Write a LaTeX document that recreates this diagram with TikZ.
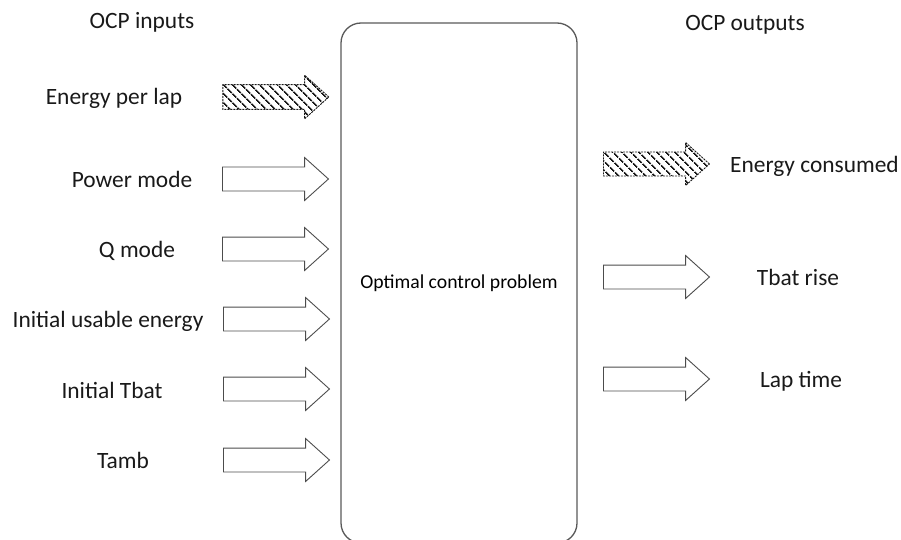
\documentclass[tikz,border=0pt]{standalone}
\usepackage{fontspec}
\setmainfont{Carlito}
\usetikzlibrary{shapes.arrows,patterns.meta}

\tikzset{
  lbl/.style={anchor=base, inner sep=0pt, text=black!90,
    font=\fontsize{23.4}{28}\selectfont},
  blockarrow/.style={single arrow, anchor=tail, draw=black!70, line width=0.9pt,
    minimum height=106pt, inner xsep=0pt, inner ysep=11.5pt,
    single arrow head extend=9.5pt, single arrow tip angle=84},
  hatcharrow/.style={blockarrow, draw=black!90, dash pattern=on 2pt off 1pt,
    pattern={Lines[angle=-45,distance=6.5pt,line width=1.7pt]},
    pattern color=black!90},
}

\begin{document}
\begin{tikzpicture}[x=1pt, y=-1pt]
  \useasboundingbox (0,0) rectangle (901,540);
  \clip (0,0) rectangle (901,540);

  % the problem block
  \node[draw=black!65, line width=1.3pt, rounded corners=20pt,
    minimum width=236pt, minimum height=520pt,
    font=\fontsize{19.7}{24}\selectfont] (ocp) at (459,283) {Optimal control problem};

  % inputs
  \node[lbl] (intitle) at (142,29) {OCP inputs};

  \node[hatcharrow] (aLap) at (222,97) {};
  \node[lbl] (tLap) at (114,105) {Energy per lap};

  \node[blockarrow] (aPow) at (222,179) {};
  \node[lbl] (tPow) at (132,187) {Power mode};

  \node[blockarrow] (aQ) at (222,249) {};
  \node[lbl] (tQ) at (137,257) {Q mode};

  \node[blockarrow] (aEini) at (223,319) {};
  \node[lbl] (tEini) at (108,327) {Initial usable energy};

  \node[blockarrow] (aTini) at (223,389) {};
  \node[lbl] (tTini) at (112,398) {Initial Tbat};

  \node[blockarrow] (aTamb) at (223,460) {};
  \node[lbl] (tTamb) at (123,468) {Tamb};

  % outputs
  \node[lbl] (outtitle) at (745,31) {OCP outputs};

  \node[hatcharrow] (aCons) at (603,164) {};
  \node[lbl, anchor=base west] (tCons) at (730,172) {Energy consumed};

  \node[blockarrow] (aRise) at (603,277) {};
  \node[lbl] (tRise) at (798,285) {Tbat rise};

  \node[blockarrow] (aLapT) at (603,379) {};
  \node[lbl] (tLapT) at (801,387) {Lap time};
\end{tikzpicture}
\end{document}
